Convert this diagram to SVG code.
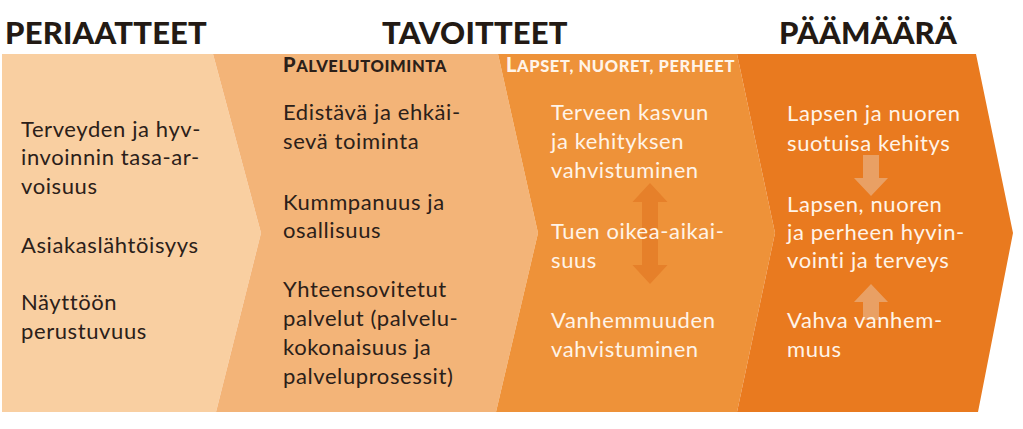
<svg xmlns="http://www.w3.org/2000/svg" width="1023" height="429" viewBox="0 0 1023 429">
<style>
.hdr{font-family:Lato,"Open Sans","Liberation Sans",sans-serif;font-weight:900;font-size:31px;letter-spacing:0.2px;fill:#231a14}
.sub{font-family:Lato,"Open Sans","Liberation Sans",sans-serif;font-weight:900;font-size:16.5px;letter-spacing:0.6px}
.sub .big{font-size:20px}
.txt{font-family:Lato,"Open Sans","Liberation Sans",sans-serif;font-size:22px;letter-spacing:0.6px}
.dark{fill:#2b2019}
.light{fill:#fff4e8}
</style>
<rect width="1023" height="429" fill="#ffffff"/>
<g id="headers">
<text class="hdr" x="5" y="44">PERIAATTEET</text>
<text class="hdr" x="382" y="44">TAVOITTEET</text>
<text class="hdr" x="779" y="44">PÄÄMÄÄRÄ</text>
</g>
<g id="periaatteet">
<polygon points="2,54 213,54 261,233 216,412 2,412" fill="#f9cfa1"/>
<text class="txt dark" x="21" y="137">Terveyden ja hyv-</text>
<text class="txt dark" x="21" y="165">invoinnin tasa-ar-</text>
<text class="txt dark" x="21" y="194">voisuus</text>
<text class="txt dark" x="21" y="253">Asiakaslähtöisyys</text>
<text class="txt dark" x="21" y="310">Näyttöön</text>
<text class="txt dark" x="21" y="339">perustuvuus</text>
</g>
<g id="palvelutoiminta">
<polygon points="213,54 498,54 538,233 496,412 216,412 261,233" fill="#f3b478"/>
<text class="sub dark" x="283" y="72"><tspan class="big">P</tspan>ALVELUTOIMINTA</text>
<text class="txt dark" x="283" y="120">Edistävä ja ehkäi-</text>
<text class="txt dark" x="283" y="149">sevä toiminta</text>
<text class="txt dark" x="283" y="210">Kummpanuus ja</text>
<text class="txt dark" x="283" y="238">osallisuus</text>
<text class="txt dark" x="283" y="297">Yhteensovitetut</text>
<text class="txt dark" x="283" y="326">palvelut (palvelu-</text>
<text class="txt dark" x="283" y="355">kokonaisuus ja</text>
<text class="txt dark" x="283" y="384">palveluprosessit)</text>
</g>
<g id="lapset">
<polygon points="498,54 737,54 775,233 737,412 496,412 538,233" fill="#ee9239"/>
<text class="sub light" x="506" y="72"><tspan class="big">L</tspan>APSET, NUORET, PERHEET</text>
</g>
<g id="paamaara">
<polygon points="737,54 976,54 1013,233 978,412 737,412 775,233" fill="#e97a1f"/>
</g>
<g id="connectors">
<polygon points="650,183 667.5,202 658,202 658,265 667.5,265 650,284 632.5,265 642,265 642,202 632.5,202" fill="#e6802a"/>
<polygon points="863,155 879,155 879,178 888,178 871,196 854,178 863,178" fill="#e9a064"/>
<polygon points="871,284 888,302 879,302 879,320 863,320 863,302 854,302" fill="#e9a064"/>
</g>
<g id="lapset-text">
<text class="txt light" x="551" y="120">Terveen kasvun</text>
<text class="txt light" x="551" y="149">ja kehityksen</text>
<text class="txt light" x="551" y="178">vahvistuminen</text>
<text class="txt light" x="551" y="239">Tuen oikea-aikai-</text>
<text class="txt light" x="551" y="268">suus</text>
<text class="txt light" x="551" y="328">Vanhemmuuden</text>
<text class="txt light" x="551" y="357">vahvistuminen</text>
</g>
<g id="paamaara-text">
<text class="txt light" x="787" y="121">Lapsen ja nuoren</text>
<text class="txt light" x="787" y="151">suotuisa kehitys</text>
<text class="txt light" x="787" y="212">Lapsen, nuoren</text>
<text class="txt light" x="787" y="240">ja perheen hyvin-</text>
<text class="txt light" x="787" y="268">vointi ja terveys</text>
<text class="txt light" x="787" y="328">Vahva vanhem-</text>
<text class="txt light" x="787" y="357">muus</text>
</g>
</svg>
